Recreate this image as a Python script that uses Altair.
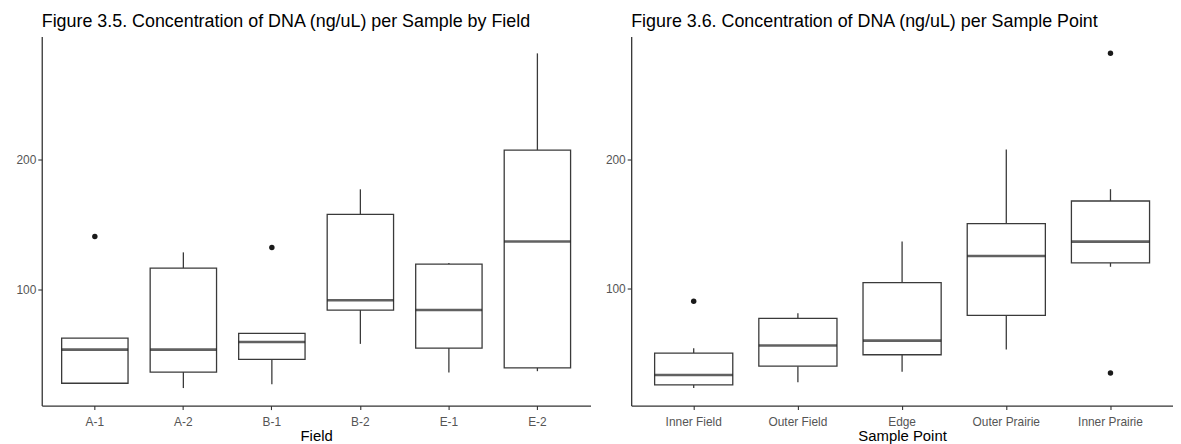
import altair as alt
import pandas as pd

# ---- Figure 3.5 data (by Field) ----
fields = ["A-1", "A-2", "B-1", "B-2", "E-1", "E-2"]
f_lower = [27.5, 24.0, 27.0, 58.0, 36.0, 37.0]
f_q1 = [27.7, 36.3, 46.0, 84.0, 54.8, 39.6]
f_median = [53.6, 53.6, 59.4, 91.6, 84.0, 136.8]
f_q3 = [62.4, 116.2, 66.0, 157.6, 119.3, 207.1]
f_upper = [62.4, 128.4, 66.0, 176.9, 120.3, 281.5]
f_out_cat = ["A-1", "B-1"]
f_out_val = [140.6, 132.2]

# ---- Figure 3.6 data (by Sample Point) ----
points = ["Inner Field", "Outer Field", "Edge", "Outer Prairie", "Inner Prairie"]
p_lower = [23.5, 28.0, 36.1, 53.3, 117.0]
p_q1 = [26.0, 40.4, 49.2, 79.5, 120.0]
p_median = [33.6, 56.3, 60.1, 125.3, 136.4]
p_q3 = [50.5, 77.3, 104.8, 150.3, 167.7]
p_upper = [54.3, 81.1, 136.4, 207.3, 176.8]
p_out_cat = ["Inner Field", "Inner Prairie", "Inner Prairie"]
p_out_val = [90.5, 281.6, 35.1]

BOX_COLOR = "#3a3a3a"
FONT = "Liberation Sans"


def panel(cats, lower, q1, med, q3, upper, out_cat, out_val, xtitle, title, width, domain):
    stats = pd.DataFrame({"cat": cats, "lower": lower, "q1": q1, "median": med,
                          "q3": q3, "upper": upper})
    outs = pd.DataFrame({"cat": out_cat, "val": out_val})
    step = width / (len(cats) + 0.2)
    xenc = alt.X("cat:N", sort=cats, title=xtitle,
                 scale=alt.Scale(paddingInner=0, paddingOuter=0.1),
                 axis=alt.Axis(labelAngle=0, labelPadding=7, titlePadding=1))
    yscale = alt.Scale(domain=domain, nice=False, zero=False)
    yaxis = alt.Axis(values=[100, 200], title=None)

    base = alt.Chart(stats)
    w_lo = base.mark_rule(color=BOX_COLOR, strokeWidth=1.3).encode(
        x=xenc, y=alt.Y("lower:Q", scale=yscale, axis=yaxis), y2="q1:Q")
    w_hi = base.mark_rule(color=BOX_COLOR, strokeWidth=1.3).encode(
        x=xenc, y=alt.Y("q3:Q", scale=yscale, axis=yaxis), y2="upper:Q")
    box = base.mark_bar(fill="white", stroke=BOX_COLOR, strokeWidth=1.3,
                        width={"band": 0.75}).encode(
        x=xenc, y=alt.Y("q1:Q", scale=yscale, axis=yaxis), y2="q3:Q")
    medl = base.mark_tick(color="#1e1e1e", thickness=2.6, orient="horizontal",
                          size=0.75 * step).encode(
        x=xenc, y=alt.Y("median:Q", scale=yscale, axis=yaxis))
    pts = alt.Chart(outs).mark_circle(color="#1a1a1a", size=30, opacity=1).encode(
        x=xenc, y=alt.Y("val:Q", scale=yscale, axis=yaxis))
    return alt.layer(w_lo, w_hi, box, medl, pts).properties(
        width=width, height=372,
        title=alt.TitleParams(title, anchor="start", frame="group", fontSize=18,
                              font=FONT, fontWeight="normal", color="black", offset=6))


left = panel(fields, f_lower, f_q1, f_median, f_q3, f_upper, f_out_cat, f_out_val,
             "Field", "Figure 3.5. Concentration of DNA (ng/uL) per Sample by Field",
             553, [10.5, 294.5])
right = panel(points, p_lower, p_q1, p_median, p_q3, p_upper, p_out_cat, p_out_val,
              "Sample Point", "Figure 3.6. Concentration of DNA (ng/uL) per Sample Point",
              546, [10.0, 294.5])

chart = alt.hconcat(left, right, spacing=14).properties(
    padding={"left": 7, "top": 3, "right": 0, "bottom": 0}
).configure_view(stroke=None).configure_axis(
    grid=False, domainColor="#333333", domainWidth=1.3, tickColor="#333333",
    tickWidth=1.1, tickSize=4, labelPadding=2, labelColor="#555555", labelFontSize=12,
    labelFont=FONT, titleFont=FONT, titleFontSize=15, titleFontWeight="normal",
    titleColor="black", titlePadding=2
)

chart.save("out.html", embed_options={"renderer": "svg", "actions": False})
